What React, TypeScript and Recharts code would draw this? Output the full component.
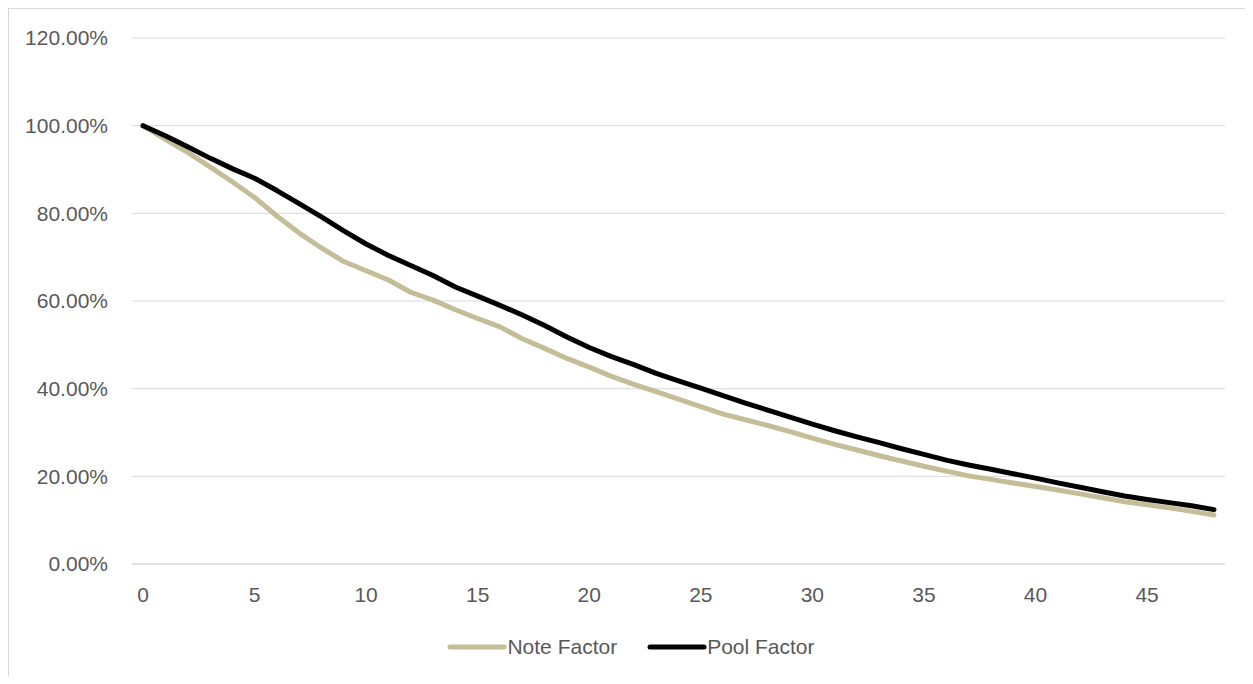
import React from 'react';
import {
  LineChart,
  Line,
  XAxis,
  YAxis,
  CartesianGrid,
  Legend
} from 'recharts';

const periods = [
  0, 1, 2, 3, 4, 5, 6, 7, 8, 9, 10, 11, 12, 13, 14, 15, 16, 17, 18, 19, 20, 21, 22, 23, 24,
  25, 26, 27, 28, 29, 30, 31, 32, 33, 34, 35, 36, 37, 38, 39, 40, 41, 42, 43, 44, 45, 46, 47, 48
];

// values in percent
const noteFactor = [
  100, 96.9, 93.9, 90.6, 87.2, 83.6, 79.4, 75.5, 72.1, 69.0, 66.9, 64.8, 62.0, 60.2, 58.0,
  56.0, 54.1, 51.4, 49.2, 46.9, 44.9, 42.8, 41.0, 39.3, 37.6, 35.9, 34.2, 32.9, 31.6, 30.2,
  28.7, 27.3, 26.0, 24.7, 23.5, 22.3, 21.2, 20.1, 19.3, 18.5, 17.7, 16.9, 16.0, 15.1, 14.2,
  13.5, 12.8, 12.0, 11.2
];

const poolFactor = [
  100, 97.7, 95.2, 92.6, 90.2, 88.0, 85.2, 82.2, 79.2, 76.0, 73.0, 70.4, 68.1, 65.8, 63.2,
  61.1, 59.0, 56.8, 54.4, 51.8, 49.4, 47.3, 45.5, 43.5, 41.8, 40.1, 38.4, 36.7, 35.1, 33.5,
  31.9, 30.4, 29.0, 27.7, 26.3, 25.0, 23.7, 22.6, 21.6, 20.6, 19.6, 18.5, 17.5, 16.5, 15.5,
  14.7, 14.0, 13.3, 12.4
];

const yTicks = [0, 20, 40, 60, 80, 100, 120];

const data = periods.map((p, i) => ({
  period: p,
  note: noteFactor[i],
  pool: poolFactor[i]
}));

const FONT = '"Liberation Sans", Arial, sans-serif';
const TEXT = '#595959';
const GRID = '#d9d9d9';

const legendItems = [
  { name: 'Note Factor', color: '#C4BD97' },
  { name: 'Pool Factor', color: '#000000' }
];

const ChartLegend = () => (
  <div
    style={{
      display: 'flex',
      justifyContent: 'center',
      alignItems: 'center',
      height: 30,
      fontFamily: FONT,
      fontSize: 21,
      color: TEXT,
      gap: 30
    }}
  >
    {legendItems.map((item) => (
      <div key={item.name} style={{ display: 'flex', alignItems: 'center' }}>
        <svg width={60} height={10}>
          <line x1={3} y1={5} x2={57} y2={5} stroke={item.color} strokeWidth={5} strokeLinecap="round" />
        </svg>
        <span>{item.name}</span>
      </div>
    ))}
  </div>
);

const App: React.FC = () => {
  return (
    <div
      style={{
        width: 1244,
        height: 667,
        borderLeft: `1px solid ${GRID}`,
        borderTop: `1px solid ${GRID}`,
        background: '#fff'
      }}
    >
      <LineChart
        width={1244}
        height={667}
        data={data}
        margin={{ top: 29, right: 28, left: 0, bottom: 14 }}
      >
        <CartesianGrid vertical={false} stroke={GRID} strokeWidth={1} />
        <XAxis
          dataKey="period"
          interval={4}
          padding={{ left: 11, right: 11 }}
          height={68}
          tickLine={false}
          tickSize={0}
          tickMargin={23}
          axisLine={{ stroke: GRID }}
          tick={{ fill: TEXT, fontSize: 21, fontFamily: FONT }}
        />
        <YAxis
          domain={[0, 120]}
          ticks={yTicks}
          width={123}
          axisLine={false}
          tickLine={false}
          tickSize={0}
          tickMargin={24}
          tickFormatter={(v: number) => `${v.toFixed(2)}%`}
          tick={{ fill: TEXT, fontSize: 21, fontFamily: FONT }}
        />
        <Legend
          verticalAlign="bottom"
          content={() => <ChartLegend />}
          wrapperStyle={{ left: 0, width: 1244 }}
        />
        <Line
          type="linear"
          dataKey="note"
          name="Note Factor"
          stroke="#C4BD97"
          strokeWidth={5}
          strokeLinecap="round"
          strokeLinejoin="round"
          dot={false}
          activeDot={false}
          isAnimationActive={false}
        />
        <Line
          type="linear"
          dataKey="pool"
          name="Pool Factor"
          stroke="#000000"
          strokeWidth={5}
          strokeLinecap="round"
          strokeLinejoin="round"
          dot={false}
          activeDot={false}
          isAnimationActive={false}
        />
      </LineChart>
    </div>
  );
};

export default App;
